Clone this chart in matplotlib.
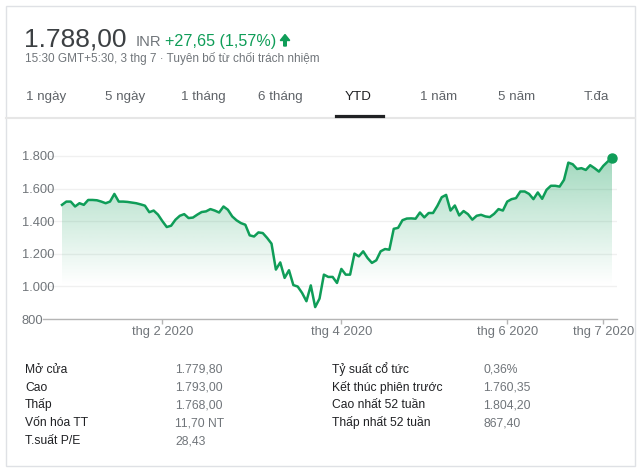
import numpy as np
import matplotlib
matplotlib.use("Agg")
import matplotlib.pyplot as plt
from matplotlib.colors import to_rgb
from matplotlib.patches import Rectangle, FancyArrow
from matplotlib.lines import Line2D
from matplotlib.transforms import Affine2D

plt.rcParams['font.family'] = ['Liberation Sans', 'DejaVu Sans']

# daily close, YTD 2020 (one value per trading day)
prices = [
    1500, 1520, 1520, 1490, 1510, 1500, 1530, 1530, 1528, 1520, 1510, 1520,
    1567, 1520, 1520, 1518, 1514, 1510, 1503, 1495, 1455, 1465,
    1440, 1400, 1364, 1372, 1409, 1433, 1443, 1419, 1422, 1440,
    1456, 1460, 1474, 1465, 1453, 1490, 1470, 1429, 1405, 1388,
    1378, 1313, 1306, 1331, 1327, 1297, 1262, 1103, 1147, 1052,
    1099, 1008, 999, 960, 909, 1006, 873, 925, 1072, 1058,
    1058, 1021, 1107, 1072, 1072, 1201, 1184, 1215, 1174, 1144,
    1160, 1215, 1229, 1225, 1353, 1359, 1406, 1416, 1417, 1415,
    1453, 1423, 1450, 1450, 1494, 1547, 1561, 1465, 1496, 1435,
    1462, 1443, 1409, 1433, 1439, 1429, 1425, 1445, 1474, 1465,
    1520, 1535, 1541, 1582, 1582, 1567, 1535, 1576, 1537, 1592,
    1617, 1617, 1612, 1653, 1759, 1749, 1720, 1725, 1714, 1743,
    1725, 1704, 1739, 1765, 1788,
]
month_ticks = [23, 64, 102, 124]
month_labels = ["thg 2 2020", "thg 4 2020", "thg 6 2020", "thg 7 2020"]
y_ticks = [800, 1000, 1200, 1400, 1600, 1800]

tabs = ["1 ngày", "5 ngày", "1 tháng", "6 tháng", "YTD", "1 năm", "5 năm", "T.đa"]
tab_x = [46, 125, 203, 280, 358, 439, 517, 596]

labels_left = ["Mở cửa", "Cao", "Thấp", "Vốn hóa TT", "T.suất P/E"]
values_left = ["1.779,80", "1.793,00", "1.768,00", "11,70 NT", "28,43"]
labels_right = ["Tỷ suất cổ tức", "Kết thúc phiên trước", "Cao nhất 52 tuần", "Thấp nhất 52 tuần"]
values_right = ["0,36%", "1.760,35", "1.804,20", "867,40"]

GREEN = '#0f9d58'
DARK = '#202124'
GRAY = '#70757a'

W, H = 640, 472
fig = plt.figure(figsize=(W / 100, H / 100), dpi=100)
px = Affine2D().scale(1 / W, 1 / H) + fig.transFigure  # pixel coords, origin bottom-left


def put(x, y, s, **kw):
    fig.text(x / W, 1 - y / H, s, va='baseline', **kw)


# card + separators
fig.patches.append(Rectangle((5.5, H - 465.5), 629, 460, fill=False, ec='#dfe1e5', lw=1, transform=px))
fig.lines.append(Line2D([5.5, 634.5], [H - 118, H - 118], color='#e6e6e6', lw=1.5, transform=px))

# header
put(24, 46, "1.788,00", fontsize=19, color='#3c4043')
put(136, 46, "INR", fontsize=10.6, color=GRAY)
put(165, 46, "+27,65 (1,57%)", fontsize=11.6, color=GREEN)
fig.patches.append(FancyArrow(285, H - 46, 0, 11.5, width=2.6, head_width=9.5, head_length=6,
                              length_includes_head=True, color=GREEN, transform=px))
put(25, 62, "15:30 GMT+5:30, 3 thg 7 · Tuyên bố từ chối trách nhiệm", fontsize=8.5, color=GRAY)

for name, x in zip(tabs, tab_x):
    sel = name == "YTD"
    put(x, 100, name, fontsize=9.6, ha='center', color=DARK if sel else '#5f6368')
fig.lines.append(Line2D([336, 383], [H - 115.5, H - 115.5], color=DARK, lw=2.3, transform=px))

# chart
ax = fig.add_axes([43 / W, 1 - 319 / H, (617 - 43) / W, (319 - 130) / H])
xs = np.arange(len(prices))
ax.plot(xs, prices, color=GREEN, lw=1.8, zorder=3, solid_joinstyle='round')
ax.plot(xs[-1], prices[-1], 'o', color=GREEN, ms=6.5, zorder=4)

# gradient fill under the line
n = 256
levels = np.linspace(800, 1800, n)
rgba = np.zeros((n, 1, 4))
rgba[..., :3] = to_rgb(GREEN)
rgba[:, 0, 3] = np.clip((levels - 1000) / 800, 0, 1) ** 1.1 * 0.4
im = ax.imshow(rgba, extent=[xs[0], xs[-1], 800, 1800], origin='lower', aspect='auto', zorder=1,
               interpolation='bilinear')
fill = ax.fill_between(xs, prices, 800, color='none', lw=0)
im.set_clip_path(fill.get_paths()[0], transform=ax.transData)

ax.set_xlim(-4.35, len(prices) - 1 + 5 / 4.365)
ax.set_ylim(800, 1959)

for s in ['top', 'right', 'left']:
    ax.spines[s].set_visible(False)
ax.spines['bottom'].set_color('#b5b5b5')
ax.spines['bottom'].set_linewidth(1)

ax.set_yticks(y_ticks, [f"{v:,}".replace(",", ".") for v in y_ticks])
ax.tick_params(axis='y', length=0, pad=15.3, labelsize=9.3, labelcolor=GRAY)
for lbl in ax.get_yticklabels():
    lbl.set_ha('left')
ax.yaxis.grid(True, color='#f0f0f0', lw=1)
ax.set_axisbelow(True)

ax.set_xticks(month_ticks, month_labels)
ax.tick_params(axis='x', length=3.8, width=1, color='#b5b5b5', pad=1.5, labelsize=9.3, labelcolor=GRAY)

# stats table
rows_y = [373, 391, 408, 426, 444]
for i, (lab, val) in enumerate(zip(labels_left, values_left)):
    put(25, rows_y[i], lab, fontsize=8.7, color=DARK)
    put(175, rows_y[i], val, fontsize=8.7, color=GRAY)
for i, (lab, val) in enumerate(zip(labels_right, values_right)):
    put(332, rows_y[i], lab, fontsize=8.7, color=DARK)
    put(483, rows_y[i], val, fontsize=8.7, color=GRAY)

fig.savefig("out.png", dpi=100)
